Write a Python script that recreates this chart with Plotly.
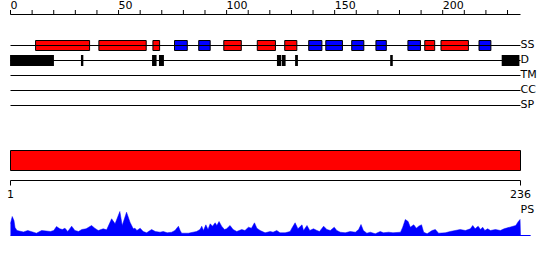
import plotly.graph_objects as go

# ---------------- data ----------------
seq_len = 236
top_ticks = list(range(0, 231, 10))
top_tick_labels = ["0", "50", "100", "150", "200"]
top_tick_label_pos = [0, 50, 100, 150, 200]

track_names = ["SS", "D", "TM", "CC", "SP"]

# secondary structure elements (H = helix / red, E = strand / blue)
ss_start = [11.6, 40.9, 65.9, 75.9, 87.1, 98.7, 114.2, 126.9, 138.0, 145.9, 157.9, 169.1, 183.9, 191.7, 199.2, 216.8]
ss_end   = [36.6, 62.8, 69.0, 81.8, 92.4, 106.8, 122.6, 132.5, 144.1, 153.6, 163.5, 173.9, 189.7, 196.3, 211.9, 222.3]
ss_type  = ["H", "H", "H", "E", "E", "H", "H", "H", "E", "E", "E", "E", "E", "H", "H", "E"]

# disordered regions
d_start = [-0.2, 32.6, 65.5, 68.7, 123.3, 125.5, 131.7, 175.7, 227.3]
d_end   = [20.1, 33.7, 67.6, 71.0, 125.2, 127.3, 133.0, 176.9, 235.5]

# domain bar
dom_start = [0]
dom_end = [236]
axis_labels = ["1", "236"]
axis_label_pos = [0, 236]

# PS profile (position, score)
ps_pos = [0, 0.8, 1.6, 2.1, 3, 4, 6, 8, 9.5, 11, 12, 14.4, 16.7, 18.5, 20, 21.3, 22.8, 24, 25.2, 26.5,
          28.3, 29.8, 31.5, 33, 35, 37.5, 39, 40.6, 42.9, 44.5, 46.8, 48.4, 50.6, 51.7, 53.7, 55.3, 56.8,
          57.6, 58.5, 60, 61.4, 63, 65.3, 67, 69.2, 70.7, 72.5, 74.6, 76.1, 77.7, 78.5, 79.2, 82.3, 84.6,
          86.1, 87.7, 88.5, 89.3, 90.4, 91.4, 92.4, 93.5, 94.7, 95.5, 96.5, 97.7, 99, 100, 101.6, 103,
          104.7, 107, 108.5, 110.1, 111.5, 112.9, 114, 115.5, 117.8, 120.2, 121.5, 123.2, 124.7, 127.1,
          129.4, 130.2, 131.7, 133, 134.1, 134.9, 135.6, 137.2, 138.5, 140.2, 141.8, 143, 144.9, 146.4,
          148, 149.8, 151, 152.6, 154.9, 157.2, 159.6, 161.1, 162.2, 163.3, 164.9, 166.5, 168.8, 171.1,
          172.6, 175, 177, 179.6, 180.5, 181.5, 182.7, 184, 185, 186.6, 187.8, 188.9, 190.2, 191.2, 192.8,
          195.1, 196.6, 198.1, 201.2, 203.5, 205.8, 208.1, 210.5, 212.8, 213.9, 215, 216.4, 217.5, 218.5,
          219.5, 220.8, 222.1, 224.4, 226.7, 228.4, 230.7, 232.2, 233.8, 235, 235.8, 236]
ps_val = [12, 19, 15, 8, 5, 4.5, 3.5, 5, 4, 3, 2.3, 5, 4.7, 4, 5, 9, 6.7, 6, 7.3, 4,
          9.3, 5, 4, 6, 6.7, 10, 7.3, 5, 6.7, 5.7, 16.7, 11.7, 24, 10, 23.3, 13.3, 6.7,
          7.3, 5, 7.3, 4, 2.7, 6, 4, 3.3, 4, 2.7, 3.3, 5, 9.3, 5, 2.3, 2.3, 3.3,
          4, 6, 9.3, 5, 10.7, 6, 11.7, 9.3, 12.7, 10, 14, 9.3, 6, 6.7, 10, 6,
          4, 6, 5, 8.3, 7.3, 12.7, 7.3, 5, 2.7, 4, 3.3, 5, 2.7, 2.7,
          4, 7.3, 12.7, 6.7, 9.3, 10.7, 5, 10, 5, 6.7, 5, 4, 9.3, 6,
          5, 8.3, 5, 3.3, 2.7, 4, 3.3, 6, 11, 5, 2.3, 3.3, 1.7, 4,
          2.7, 3.3, 2.7, 2.7, 3.3, 8.3, 16, 14, 8.3, 10.7, 7.3, 9.3, 10.7, 3.3, 1.7,
          5, 6, 2.3, 2.7, 4, 5, 6, 5, 6.7, 10, 6.7, 9.3, 6, 8.3,
          5, 6.7, 5, 6, 5, 6.7, 8.3, 9.3, 10, 14, 16, 0]

# ---------------- figure ----------------
W, H = 550, 260
px0, ppu = 10.5, 2.161          # pixel of residue 0, pixels per residue
x_range = [-px0 / ppu, (W - px0) / ppu]

row_y = {"SS": 45.5, "D": 60.5, "TM": 75.5, "CC": 90.5, "SP": 105.5}
axis_y = 14.5
dom_y = 160.5
bot_axis_y = 180.5
ps_base = 235.5
ps_max = 25.0

RED = "#FF0000"
BLUE = "#0000FF"
FONT = "DejaVu Sans"

fig = go.Figure()

def seg_trace(xs, ys, color="black", width=1, yaxis="y"):
    return go.Scatter(x=xs, y=ys, mode="lines", line=dict(color=color, width=width),
                      hoverinfo="skip", showlegend=False, yaxis=yaxis)

# top ruler
fig.add_trace(seg_trace([0, seq_len], [axis_y, axis_y]))
tx, ty = [], []
for t in top_ticks:
    tx += [t, t, None]
    ty += [axis_y, 10.0, None]
fig.add_trace(seg_trace(tx, ty))
fig.add_trace(go.Scatter(x=top_tick_label_pos, y=[6.5] * len(top_tick_label_pos), mode="text",
                         text=top_tick_labels, textposition="middle right",
                         textfont=dict(family=FONT, size=11, color="black"),
                         hoverinfo="skip", showlegend=False))

# track lines + labels
for name in track_names:
    fig.add_trace(seg_trace([0, seq_len], [row_y[name], row_y[name]]))
fig.add_trace(go.Scatter(x=[seq_len] * len(track_names), y=[row_y[n] for n in track_names],
                         mode="text", text=track_names, textposition="middle right",
                         textfont=dict(family=FONT, size=11, color="black"),
                         hoverinfo="skip", showlegend=False))

# secondary structure boxes
colors = [RED if t == "H" else BLUE for t in ss_type]
fig.add_trace(go.Bar(orientation="h", base=ss_start,
                     x=[e - s for s, e in zip(ss_start, ss_end)],
                     y=[row_y["SS"]] * len(ss_start), width=10,
                     marker=dict(color=colors, line=dict(color="black", width=1)),
                     hoverinfo="skip", showlegend=False))

# disorder boxes
fig.add_trace(go.Bar(orientation="h", base=d_start,
                     x=[e - s for s, e in zip(d_start, d_end)],
                     y=[row_y["D"]] * len(d_start), width=11,
                     marker=dict(color="black", line=dict(width=0)),
                     hoverinfo="skip", showlegend=False))

# domain bar
fig.add_trace(go.Bar(orientation="h", base=dom_start,
                     x=[e - s for s, e in zip(dom_start, dom_end)],
                     y=[dom_y], width=20,
                     marker=dict(color=RED, line=dict(color="black", width=1)),
                     hoverinfo="skip", showlegend=False))

# bottom ruler
fig.add_trace(seg_trace([0, seq_len], [bot_axis_y, bot_axis_y]))
bx, by = [], []
for p in axis_label_pos:
    bx += [p, p, None]
    by += [bot_axis_y, 185.5, None]
fig.add_trace(seg_trace(bx, by))
fig.add_trace(go.Scatter(x=axis_label_pos, y=[195.5] * 2, mode="text", text=axis_labels,
                         textposition="middle center",
                         textfont=dict(family=FONT, size=11, color="black"),
                         hoverinfo="skip", showlegend=False))

# PS label
fig.add_trace(go.Scatter(x=[seq_len], y=[210.0], mode="text", text=["PS"],
                         textposition="middle right",
                         textfont=dict(family=FONT, size=11, color="black"),
                         hoverinfo="skip", showlegend=False))

# PS profile (own y axis / subplot)
fig.add_trace(seg_trace([0, 240.7], [0, 0], color=BLUE, yaxis="y2"))
fig.add_trace(go.Scatter(x=ps_pos, y=ps_val, mode="lines", fill="tozeroy",
                         fillcolor=BLUE, line=dict(color=BLUE, width=0.5),
                         hoverinfo="skip", showlegend=False, yaxis="y2"))

fig.update_layout(
    width=W, height=H, margin=dict(l=0, r=0, t=0, b=0),
    paper_bgcolor="white", plot_bgcolor="rgba(0,0,0,0)",
    barmode="overlay", showlegend=False,
    xaxis=dict(range=x_range, visible=False, fixedrange=True, anchor="y"),
    yaxis=dict(range=[H, 0], visible=False, fixedrange=True, domain=[0, 1]),
    yaxis2=dict(range=[-0.5, ps_max], visible=False, fixedrange=True,
                domain=[(H - ps_base - 0.5) / H, (H - ps_base + ps_max) / H],
                anchor="x"),
)

fig.write_html("out.html", config={"displayModeBar": False})
